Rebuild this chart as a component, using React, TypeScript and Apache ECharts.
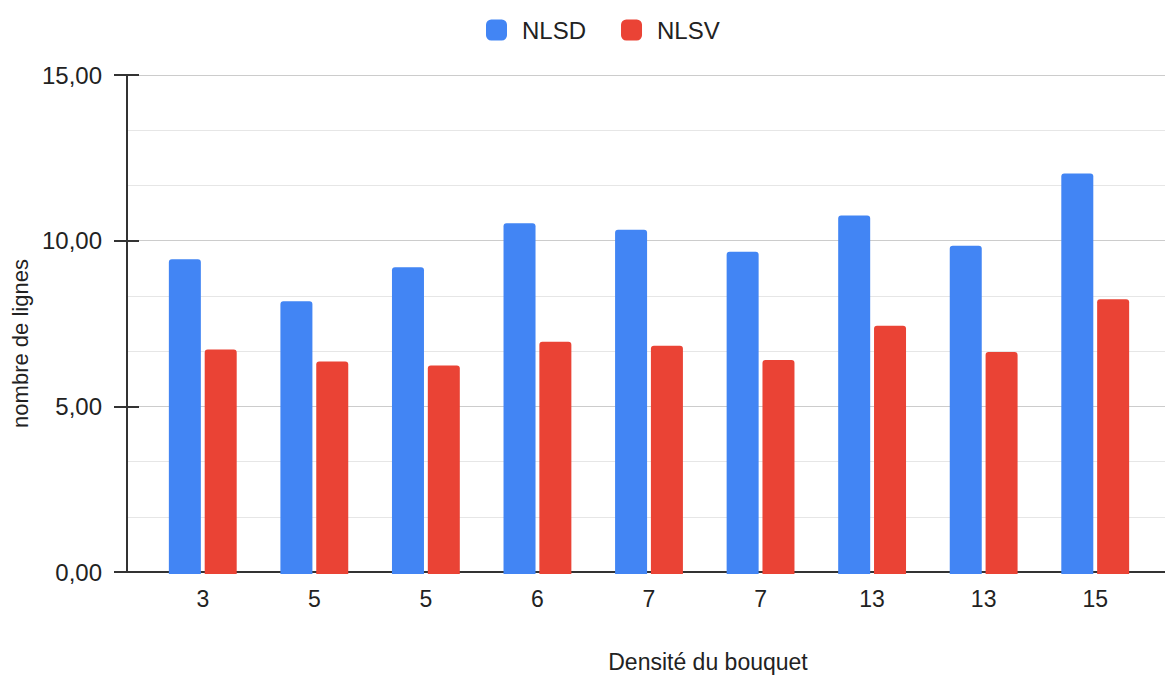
import React, { useEffect, useRef } from "react";
import * as echarts from "echarts";

const categories = ["3", "5", "5", "6", "7", "7", "13", "13", "15"];
const nlsd = [9.46, 8.2, 9.22, 10.54, 10.35, 9.69, 10.78, 9.87, 12.04];
const nlsv = [6.75, 6.39, 6.27, 6.98, 6.86, 6.43, 7.46, 6.67, 8.26];
const seriesNames = ["NLSD", "NLSV"];
const colors = ["#4285F4", "#EA4335"];

const FONT = "Liberation Sans, Arial, sans-serif";

export default function App() {
  const ref = useRef<HTMLDivElement>(null);
  useEffect(() => {
    if (!ref.current) return;
    const chart = echarts.init(ref.current, null, { renderer: "svg" });
    const top = 75;
    const bottom = 104;
    chart.setOption({
      animation: false,
      backgroundColor: "#ffffff",
      textStyle: { fontFamily: FONT },
      legend: {
        data: seriesNames,
        top: 13,
        left: 481,
        icon: "roundRect",
        itemWidth: 21,
        itemHeight: 21,
        itemGap: 35,
        textStyle: { fontSize: 24, color: "#222222", fontFamily: FONT, padding: [0, 0, 0, 10] },
      },
      grid: [
        { left: 127, right: 0, top, bottom, containLabel: false },
        { left: 147, right: 14, top, bottom, containLabel: false },
      ],
      xAxis: [
        {
          type: "value",
          gridIndex: 0,
          min: 0,
          max: 1,
          axisLine: { show: true, lineStyle: { color: "#333333", width: 2 } },
          axisTick: { show: false },
          axisLabel: { show: false },
          splitLine: { show: false },
          name: "Densité du bouquet",
          nameLocation: "middle",
          nameGap: 78,
          nameTextStyle: { fontSize: 23, color: "#222222", fontFamily: FONT, padding: [0, 0, 0, 124] },
        },
        {
          type: "category",
          gridIndex: 1,
          data: categories,
          axisLine: { show: false },
          axisTick: { show: false },
          axisLabel: { fontSize: 23, color: "#222222", margin: 13, fontFamily: FONT },
        },
      ],
      yAxis: [
        {
          type: "value",
          gridIndex: 0,
          min: 0,
          max: 15,
          interval: 5,
          axisLine: { show: true, lineStyle: { color: "#333333", width: 2 } },
          axisTick: { show: true, length: 13, lineStyle: { color: "#333333", width: 2 } },
          axisLabel: {
            fontSize: 24,
            color: "#222222",
            margin: 25,
            fontFamily: FONT,
            formatter: (v: number) => v.toFixed(2).replace(".", ","),
          },
          splitLine: { show: true, lineStyle: { color: "#cccccc", width: 1 } },
          minorTick: { show: false, splitNumber: 3 },
          minorSplitLine: { show: true, lineStyle: { color: "#e6e6e6", width: 1 } },
          name: "nombre de lignes",
          nameLocation: "middle",
          nameGap: 95,
          nameRotate: 90,
          nameTextStyle: { fontSize: 22, color: "#222222", fontFamily: FONT, padding: [0, 40, 0, 0] },
        },
        {
          type: "value",
          gridIndex: 0,
          min: 0,
          max: 15,
          interval: 5,
          position: "left",
          axisLine: { show: false },
          axisTick: { show: true, inside: true, length: 12, lineStyle: { color: "#333333", width: 2 } },
          axisLabel: { show: false },
          splitLine: { show: false },
        },
        {
          type: "value",
          gridIndex: 1,
          min: 0,
          max: 15,
          show: false,
          splitLine: { show: false },
        },
      ],
      series: [
        {
          name: seriesNames[0],
          type: "bar",
          xAxisIndex: 1,
          yAxisIndex: 2,
          data: nlsd,
          barWidth: 32,
          barGap: "12%",
          itemStyle: { color: colors[0], borderRadius: [3, 3, 0, 0] },
        },
        {
          name: seriesNames[1],
          type: "bar",
          xAxisIndex: 1,
          yAxisIndex: 2,
          data: nlsv,
          barWidth: 32,
          barGap: "12%",
          itemStyle: { color: colors[1], borderRadius: [3, 3, 0, 0] },
        },
      ],
    });
    return () => chart.dispose();
  }, []);
  return (
    <div
      ref={ref}
      style={{ position: "fixed", left: 0, top: 0, width: 1165, height: 678 }}
    />
  );
}
